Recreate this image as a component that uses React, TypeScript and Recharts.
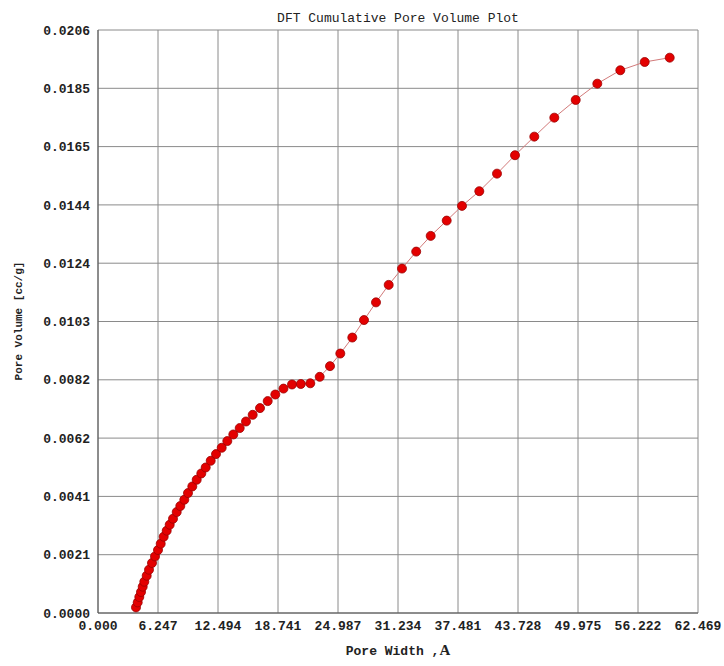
import React from "react"
import { LineChart, Line, XAxis, YAxis, CartesianGrid } from "recharts"

// pore width (A) and cumulative pore volume (cc/g)
const poreWidth = [
  3.956, 4.133, 4.3, 4.477, 4.654, 4.82, 5.07, 5.31, 5.622, 5.935,
  6.247, 6.528, 6.84, 7.153, 7.465, 7.809, 8.194, 8.569, 8.985, 9.37,
  9.818, 10.276, 10.755, 11.213, 11.734, 12.286, 12.879, 13.462, 14.087, 14.753,
  15.409, 16.106, 16.867, 17.668, 18.46, 19.313, 20.198, 21.114, 22.103, 23.082,
  24.155, 25.227, 26.476, 27.694, 28.944, 30.266, 31.651, 33.129, 34.639, 36.305,
  37.898, 39.699, 41.542, 43.416, 45.425, 47.508, 49.736, 51.984, 54.379, 56.92,
  59.523,
]

const poreVolume = [
  0.000198, 0.000374, 0.000565, 0.000742, 0.000929, 0.001105, 0.001317, 0.001529, 0.001766, 0.001999,
  0.002225, 0.002447, 0.002695, 0.002907, 0.003118, 0.00333, 0.003567, 0.003779, 0.004001, 0.004238,
  0.004471, 0.004708, 0.00493, 0.005142, 0.005379, 0.005615, 0.005838, 0.006075, 0.006308, 0.006534,
  0.006767, 0.007003, 0.00724, 0.007487, 0.00772, 0.007929, 0.008074, 0.008091, 0.008116, 0.008345,
  0.008723, 0.009168, 0.009733, 0.010351, 0.010976, 0.011594, 0.01217, 0.01277, 0.013325, 0.013865,
  0.014385, 0.014904, 0.015525, 0.016175, 0.016832, 0.017503, 0.018128, 0.018704, 0.019177, 0.01947,
  0.019622,
]

const xTicks = [0, 6.24686, 12.49372, 18.74058, 24.98744, 31.2343, 37.48116, 43.72802, 49.97488, 56.22174, 62.4686]
const yTicks = [0, 0.00206, 0.00412, 0.00618, 0.00824, 0.0103, 0.01236, 0.01442, 0.01648, 0.01854, 0.0206]

const data = poreWidth.map((w, i) => ({ w, v: poreVolume[i] }))

const mono = "'Liberation Mono', 'DejaVu Sans Mono', monospace"

const RedDot = (props: any) => {
  const { cx, cy, index } = props
  if (cx == null || cy == null) return null
  return <circle key={`dot-${index}`} cx={cx} cy={cy} r={4.5} fill="#e30000" stroke="#9a0000" strokeWidth={0.8} />
}

const XLabel = (props: any) => {
  const vb = props.viewBox
  return (
    <text x={vb.x + vb.width / 2} y={vb.y + 42} textAnchor="middle" fontFamily={mono} fontWeight="bold" fontSize={13} fill="#222">
      Pore Width ,<tspan fontFamily="'Liberation Serif', serif" fontSize={15}>A</tspan>
    </text>
  )
}

const YLabel = () => (
  <text x={22} y={321} transform="rotate(-90 22 321)" textAnchor="middle" fontFamily={mono} fontWeight="bold" fontSize={11} fill="#222">
    Pore Volume [cc/g]
  </text>
)

export default function App() {
  return (
    <div style={{ position: "absolute", left: 0, top: 0, width: 724, height: 666, background: "#fff" }}>
      <div
        style={{
          position: "absolute",
          left: 0,
          top: 11,
          width: 796,
          textAlign: "center",
          fontFamily: mono,
          fontSize: 13,
          color: "#222",
        }}
      >
        DFT Cumulative Pore Volume Plot
      </div>
      <LineChart width={724} height={666} data={data} margin={{ top: 30, right: 26, bottom: 23, left: 8 }}>
        <CartesianGrid stroke="#8a8a8a" strokeWidth={1} horizontalPoints={undefined} />
        <XAxis
          dataKey="w"
          type="number"
          domain={[0, 62.4686]}
          ticks={xTicks}
          tickFormatter={(t: number) => t.toFixed(3)}
          tickSize={0}
          tickMargin={8}
          height={30}
          stroke="#555"
          tick={{ fontFamily: mono, fontWeight: "bold", fontSize: 13, fill: "#222" }}
          interval={0}
          label={<XLabel />}
        />
        <YAxis
          dataKey="v"
          type="number"
          domain={[0, 0.0206]}
          ticks={yTicks}
          tickFormatter={(t: number) => t.toFixed(4)}
          tickSize={0}
          tickMargin={8}
          width={90}
          stroke="#555"
          tick={{ fontFamily: mono, fontWeight: "bold", fontSize: 13, fill: "#222" }}
          interval={0}
          label={<YLabel />}
        />
        <Line
          type="linear"
          dataKey="v"
          stroke="#d27a7a"
          strokeWidth={1}
          dot={<RedDot />}
          activeDot={false}
          isAnimationActive={false}
        />
      </LineChart>
    </div>
  )
}
